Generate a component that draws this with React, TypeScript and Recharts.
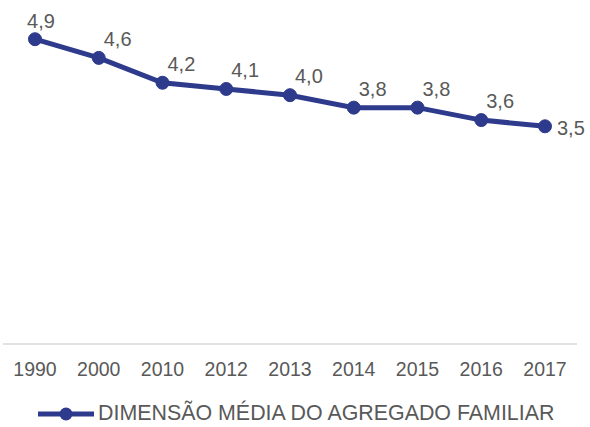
import React from "react";
import { LineChart, Line, XAxis, YAxis, Legend, LabelList } from "recharts";

const YEARS = ["1990", "2000", "2010", "2012", "2013", "2014", "2015", "2016", "2017"];
const SIZES = [4.9, 4.6, 4.2, 4.1, 4.0, 3.8, 3.8, 3.6, 3.5];
const SERIES_NAME = "DIMENSÃO MÉDIA DO AGREGADO FAMILIAR";

const data = YEARS.map((year, i) => ({ year, size: SIZES[i] }));

const BLUE = "#2E3A8C";
const TEXT = "#595959";
const FONT = "'Liberation Sans', Arial, sans-serif";

function PointLabel(props: any) {
    const { x, y, value, index } = props;
    const txt = Number(value).toFixed(1).replace(".", ",");
    if (index === SIZES.length - 1) {
        return (
            <text x={x + 12} y={y + 2} dy="0.35em" fill={TEXT} fontSize={20} fontFamily={FONT}>
                {txt}
            </text>
        );
    }
    if (index === 0) {
        return (
            <text x={x + 6} y={y - 18} dy="0.35em" textAnchor="middle" fill={TEXT} fontSize={20} fontFamily={FONT}>
                {txt}
            </text>
        );
    }
    return (
        <text x={x + 5} y={y - 19} dy="0.35em" fill={TEXT} fontSize={20} fontFamily={FONT}>
            {txt}
        </text>
    );
}

function LegendContent() {
    return (
        <div style={{ display: "flex", alignItems: "center", paddingLeft: 35, paddingTop: 12, fontFamily: FONT, fontSize: 21.4, color: TEXT }}>
            <svg width={58} height={16}>
                <line x1={0} y1={8} x2={56} y2={8} stroke={BLUE} strokeWidth={5} />
                <circle cx={28} cy={8} r={6.5} fill={BLUE} />
            </svg>
            <span style={{ marginLeft: 2 }}>{SERIES_NAME}</span>
        </div>
    );
}

export default function App() {
    return (
        <div style={{ position: "absolute", left: 0, top: 0, width: 590, height: 427, background: "#fff" }}>
            <LineChart width={590} height={427} data={data} margin={{ top: 33, right: 13, left: 3, bottom: 0 }}>
                <XAxis
                    dataKey="year"
                    axisLine={{ stroke: "#d9d9d9", strokeWidth: 1.5 }}
                    tickLine={false}
                    tick={{ fill: TEXT, fontSize: 19.5, fontFamily: FONT }}
                    tickMargin={12}
                    height={45}
                    interval={0}
                    padding={{ left: 32, right: 32 }}
                />
                <YAxis hide domain={[0, 5]} />
                <Legend verticalAlign="bottom" height={38} content={<LegendContent />} />
                <Line
                    dataKey="size"
                    name={SERIES_NAME}
                    stroke={BLUE}
                    strokeWidth={5}
                    dot={{ r: 6.5, fill: BLUE, stroke: BLUE, strokeWidth: 1 }}
                    activeDot={false}
                    isAnimationActive={false}
                >
                    <LabelList dataKey="size" content={<PointLabel />} />
                </Line>
            </LineChart>
        </div>
    );
}
